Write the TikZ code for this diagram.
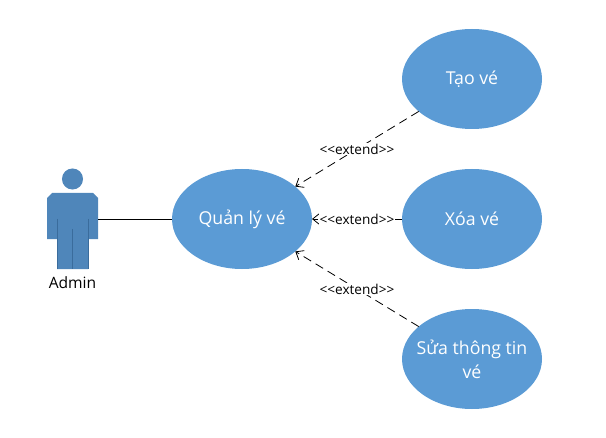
\documentclass[tikz,border=0pt]{standalone}
\usepackage{fontspec}
\setmainfont{Open Sans}
\usetikzlibrary{arrows.meta,positioning,shapes.geometric}
\definecolor{usecaseblue}{RGB}{91,155,213}
\definecolor{actorblue}{RGB}{79,134,186}
\definecolor{actorline}{RGB}{58,108,156}
\tikzset{
    usecase/.style = {
        ellipse,
        fill = usecaseblue,
        text = white,
        minimum width = 105pt,
        minimum height = 75pt,
        inner sep = -8pt,
        outer sep = 0pt,
        align = center,
        font = \fontsize{13.3}{18}\selectfont,
    },
    extend edge/.style = {
        draw = black,
        line width = 0.6pt,
        dash pattern = on 6.5pt off 4pt,
        -{Straight Barb[length=5pt,width=8pt]},
    },
    extend label/.style = {
        fill = white,
        inner sep = 0.5pt,
        font = \fontsize{10.2}{12}\selectfont,
    },
    actor part/.style = {
        fill = actorblue,
    },
}

\begin{document}
\begin{tikzpicture}
            [
                x = 0.75pt,
                y = -0.75pt,
            ]
            \useasboundingbox (0,0) rectangle (606,438);

            \node [usecase] (quanly) at (242,219) {Quản lý vé};
            \node [usecase,right=67.5pt of quanly] (xoa) {Xóa vé};
            \node [usecase,above=30pt of xoa] (tao) {Tạo vé};
            \node [usecase,below=30pt of xoa] (sua) {Sửa thông tin\\vé};

            % actor
            \fill [actor part] (72.5,179) circle [radius=7.9pt];
            \fill [actor part] (52,193) -- (93,193) -- (98,198) -- (98,239) -- (88,239)
                -- (88,269) -- (57,269) -- (57,239) -- (47,239) -- (47,198) -- cycle;
            \draw [actorline, line width=0.4pt] (57,219) -- (57,269);
            \draw [actorline, line width=0.4pt] (88,219) -- (88,269);
            \draw [actorline, line width=0.4pt] (72.5,229) -- (72.5,269);
            \coordinate (adminhand) at (98,219);
            \node [font=\fontsize{11.7}{14}\selectfont] (admin) at (72.5,283) {Admin};

            \draw [line width=0.6pt] (adminhand) -- (quanly);

            \draw [extend edge] (tao) -- node [extend label] (ext1) {<{}<extend>{}>} (quanly);
            \draw [extend edge] (xoa) -- node [extend label] (ext2) {<{}<extend>{}>} (quanly);
            \draw [extend edge] (sua) -- node [extend label] (ext3) {<{}<extend>{}>} (quanly);
        \end{tikzpicture}
\end{document}
